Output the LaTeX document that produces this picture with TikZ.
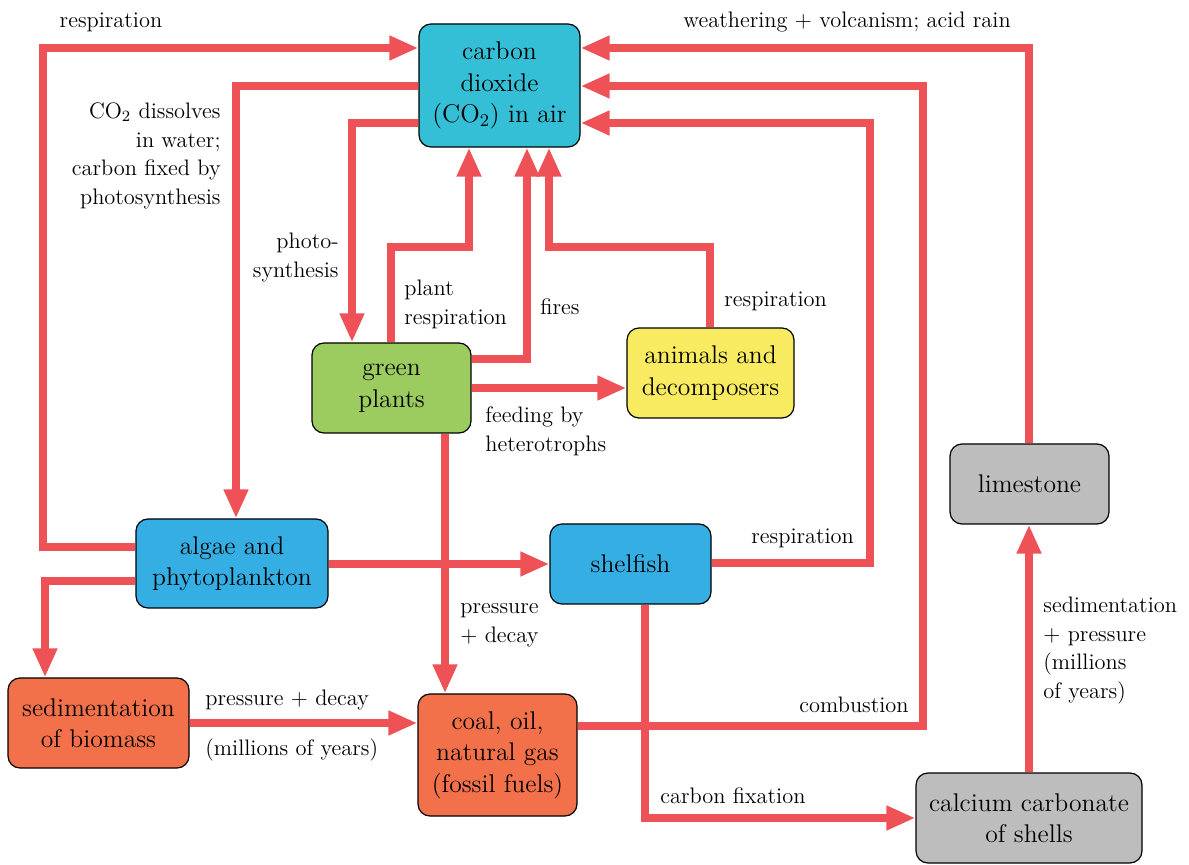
\documentclass[tikz,border=0pt]{standalone}
\usetikzlibrary{arrows.meta}
\definecolor{flowred}{RGB}{238,82,87}
\definecolor{cyanbox}{RGB}{52,191,214}
\definecolor{greenbox}{RGB}{156,203,95}
\definecolor{yellowbox}{RGB}{248,234,97}
\definecolor{bluebox}{RGB}{53,175,227}
\definecolor{graybox}{RGB}{189,189,189}
\definecolor{orangebox}{RGB}{242,113,74}
\newcommand\boxfont{\fontsize{12.8}{15.75}\selectfont}
\newcommand\lblfont{\fontsize{11.2}{14.3}\selectfont}
\tikzset{
  box/.style={draw=black, line width=0.6pt, rounded corners=6pt, align=center,
    font=\boxfont, inner sep=0pt},
  flow/.style={draw=flowred, line width=4pt, -{Triangle[length=14.5pt,width=11.5pt]}},
  lbl/.style={font=\lblfont, inner sep=0pt},
}
\begin{document}
\begin{tikzpicture}[x=0.5pt,y=-0.5pt]
\useasboundingbox (0,0) rectangle (1189,865);
% boxes
\node[box, fill=cyanbox, minimum width=80.5pt, minimum height=61.5pt] (co2) at (499.5,85.5) {carbon\\dioxide\\(CO\textsubscript{2}) in air};
\node[box, fill=greenbox, minimum width=79.5pt, minimum height=45pt] (plants) at (391.5,388) {green\\plants};
\node[box, fill=yellowbox, minimum width=83.5pt, minimum height=45pt] (animals) at (710.5,373) {animals and\\decomposers};
\node[box, fill=bluebox, minimum width=96pt, minimum height=44.5pt] (algae) at (232,563.5) {algae and\\phytoplankton};
\node[box, fill=bluebox, minimum width=80.5pt, minimum height=40pt] (shelfish) at (630.5,564) {shelfish};
\node[box, fill=graybox, minimum width=79.5pt, minimum height=40pt] (limestone) at (1029.5,484) {limestone};
\node[box, fill=orangebox, minimum width=90.5pt, minimum height=45pt] (sed) at (98.5,723) {sedimentation\\of biomass};
\node[box, fill=orangebox, minimum width=79.5pt, minimum height=61pt] (coal) at (497.5,755) {coal, oil,\\natural gas\\(fossil fuels)};
\node[box, fill=graybox, minimum width=113pt, minimum height=45pt] (calcium) at (1029,818) {calcium carbonate\\of shells};
% connectors
\draw[flow] (algae.west |- 0,547) -| (43,48) -- (co2.west |- 0,48);
\draw[flow] (co2.west |- 0,86) -| (algae.north -| 236,0);
\draw[flow] (co2.west |- 0,123) -| (plants.north -| 352,0);
\draw[flow] (plants.north -| 391,0) |- (469,247) -- (co2.south -| 469,0);
\draw[flow] (plants.east |- 0,359) -| (co2.south -| 527,0);
\draw[flow] (animals.north -| 710,0) |- (549,247) -- (co2.south -| 549,0);
\draw[flow] (plants.east |- 0,388) -- (animals.west |- 0,388);
\draw[flow] (plants.south -| 445,0) -- (coal.north -| 445,0);
\draw[flow] (algae.east |- 0,564) -- (shelfish.west |- 0,564);
\draw[flow] (algae.west |- 0,581) -| (sed.north -| 45,0);
\draw[flow] (sed.east |- 0,723) -- (coal.west |- 0,723);
\draw[flow] (coal.east |- 0,726) -| (923,86) -- (co2.east |- 0,86);
\draw[flow] (shelfish.east |- 0,563) -| (870,123) -- (co2.east |- 0,123);
\draw[flow] (shelfish.south -| 645,0) |- (calcium.west |- 0,818);
\draw[flow] (calcium.north -| 1029,0) -- (limestone.south -| 1029,0);
\draw[flow] (limestone.north -| 1029,0) |- (co2.east |- 0,48);
% labels
\node[lbl, anchor=base] (l1) at (111,28) {respiration};
\node[lbl, anchor=north east, align=right] (l2) at (221,98) {\strut CO\textsubscript{2} dissolves\\in water;\\carbon fixed by\\photosynthesis};
\node[lbl, anchor=north east, align=right] (l3) at (339,228) {\strut photo-\\synthesis};
\node[lbl, anchor=north west, align=left] (l4) at (404,275) {\strut plant\\respiration};
\node[lbl, anchor=base west] (l5) at (540,315) {fires};
\node[lbl, anchor=base west] (l6) at (724,307) {respiration};
\node[lbl, anchor=north west, align=left] (l7) at (485,402) {\strut feeding by\\heterotrophs};
\node[lbl, anchor=north west, align=left] (l8) at (460,593) {\strut pressure\\+ decay};
\node[lbl, anchor=base west] (l9) at (205,705) {pressure + decay};
\node[lbl, anchor=base west] (l10) at (205,755) {(millions of years)};
\node[lbl, anchor=base east] (l11) at (909,712) {combustion};
\node[lbl, anchor=base west] (l12) at (751,544) {respiration};
\node[lbl, anchor=base west] (l13) at (660,803) {carbon fixation};
\node[lbl, anchor=north west, align=left] (l14) at (1043,592) {\strut sedimentation\\+ pressure\\(millions\\of years)};
\node[lbl, anchor=base west] (l15) at (683,28) {weathering + volcanism; acid rain};
\end{tikzpicture}
\end{document}
